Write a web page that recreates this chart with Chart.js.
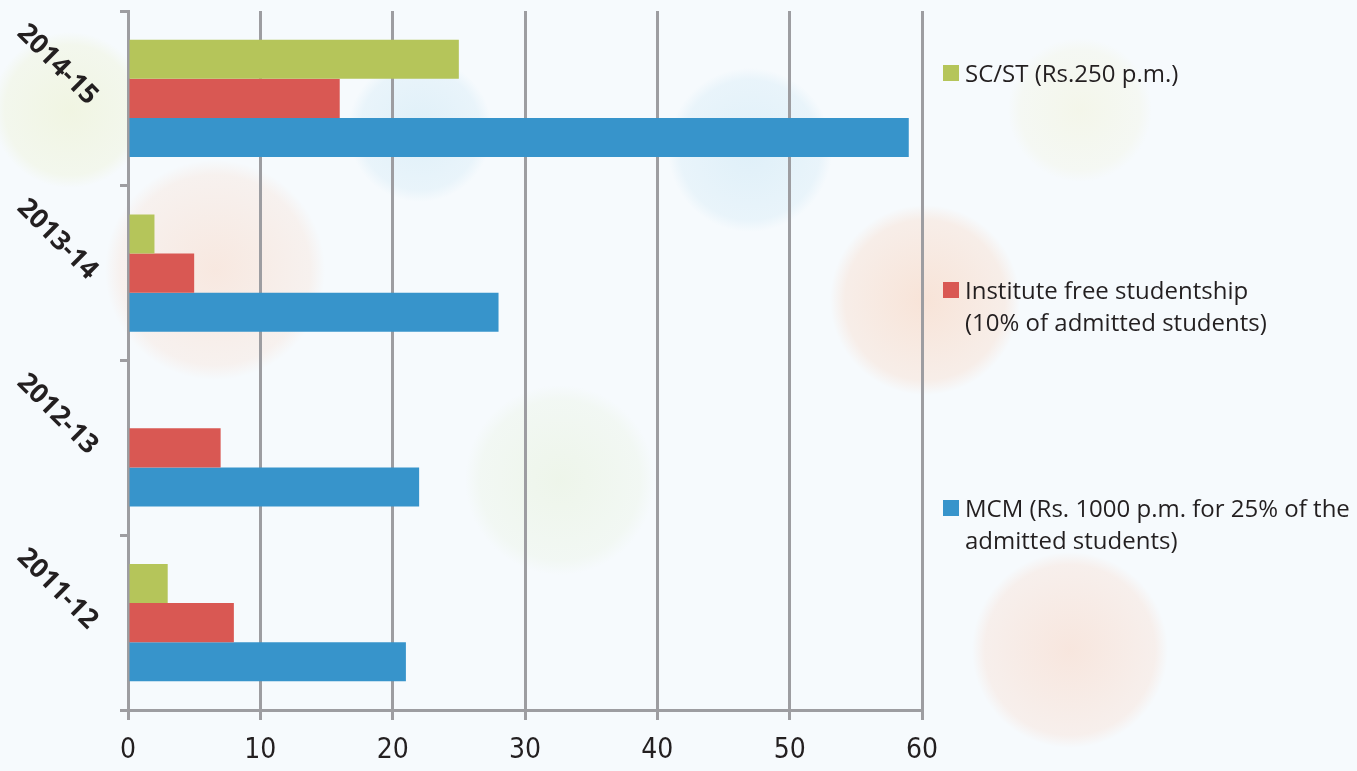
<!DOCTYPE html>
<html>
<head>
  <title>Scholarships</title>
  <script src="https://cdn.jsdelivr.net/npm/chart.js"></script>
  <style>
    html, body { margin: 0; padding: 0; }
    body {
      width: 1357px; height: 771px; overflow: hidden; position: relative;
      background-color: #f6fafd;
      background-image:
        radial-gradient(circle at 925px 300px, rgba(250,200,170,0.45) 0, rgba(250,200,170,0.25) 80px, rgba(250,200,170,0) 95px),
        radial-gradient(circle at 215px 270px, rgba(250,205,180,0.4) 0, rgba(250,205,180,0.2) 95px, rgba(250,205,180,0) 110px),
        radial-gradient(circle at 420px 130px, rgba(180,220,240,0.35) 0, rgba(180,220,240,0.2) 60px, rgba(180,220,240,0) 72px),
        radial-gradient(circle at 750px 150px, rgba(180,220,240,0.35) 0, rgba(180,220,240,0.2) 70px, rgba(180,220,240,0) 82px),
        radial-gradient(circle at 70px 110px, rgba(235,240,200,0.5) 0, rgba(235,240,200,0.3) 65px, rgba(235,240,200,0) 78px),
        radial-gradient(circle at 1070px 650px, rgba(250,200,175,0.4) 0, rgba(250,200,175,0.22) 85px, rgba(250,200,175,0) 98px),
        radial-gradient(circle at 560px 480px, rgba(225,238,205,0.4) 0, rgba(225,238,205,0.2) 80px, rgba(225,238,205,0) 95px),
        radial-gradient(circle at 1080px 110px, rgba(240,240,205,0.4) 0, rgba(240,240,205,0.2) 60px, rgba(240,240,205,0) 72px);
    }
    #wrap { position: absolute; left: 0; top: 0; width: 1357px; height: 771px; }
    #legend {
      position: absolute; left: 943px; top: 0;
      font-family: "Open Sans", sans-serif; font-size: 24px; color: #231f20;
    }
    .item { position: absolute; left: 0; width: 420px; line-height: 32px; }
    .item .sw { position: absolute; left: 0; top: 8px; width: 16px; height: 16px; }
    .item .tx { position: absolute; left: 22px; white-space: nowrap; }
  </style>
</head>
<body>
<div id="wrap"><canvas id="chart" width="1357" height="771"></canvas></div>
<div id="legend"></div>

<script>
  // дані графіка
  const years = ['2014-15', '2013-14', '2012-13', '2011-12'];
  const scstValues = [25, 2, 0, 3];
  const instituteValues = [16, 5, 7, 8];
  const mcmValues = [59, 28, 22, 21];
  const xTicks = [0, 10, 20, 30, 40, 50, 60];

  const seriesNames = [
    ['SC/ST (Rs.250 p.m.)'],
    ['Institute free studentship', '(10% of admitted students)'],
    ['MCM (Rs. 1000 p.m. for 25% of the', 'admitted students)']
  ];
  const seriesColors = ['#b5c55a', '#d95853', '#3794cb'];
  const legendTops = [57, 274, 492];

  const gridGrey = '#9d9da1';

  // похилі підписи років біля осі Y
  const slantedLabels = {
    id: 'slantedLabels',
    afterDraw(chart) {
      const y = chart.scales.y;
      const c = chart.ctx;
      c.save();
      c.fillStyle = '#231f20';
      c.font = 'bold 27px "Open Sans", sans-serif';
      c.textAlign = 'right';
      c.textBaseline = 'middle';
      y.ticks.forEach((t, i) => {
        const py = y.getPixelForTick(i);
        c.save();
        c.translate(y.right - 35, py + 2);
        c.rotate(Math.PI / 4);
        c.fillText(y.getLabelForValue(t.value), 0, 0);
        c.restore();
      });
      c.restore();
    }
  };

  const ctx = document.getElementById('chart').getContext('2d');
  const chart = new Chart(ctx, {
    type: 'bar',
    data: {
      labels: years,
      datasets: [
        { label: seriesNames[0].join(' '), data: scstValues, backgroundColor: seriesColors[0] },
        { label: seriesNames[1].join(' '), data: instituteValues, backgroundColor: seriesColors[1] },
        { label: seriesNames[2].join(' '), data: mcmValues, backgroundColor: seriesColors[2] }
      ]
    },
    options: {
      indexAxis: 'y',
      responsive: false,
      animation: false,
      devicePixelRatio: 1,
      layout: { padding: { top: 11, right: 435, bottom: 3, left: 0 } },
      datasets: { bar: { categoryPercentage: 0.67, barPercentage: 1.0 } },
      plugins: {
        legend: { display: false },
        tooltip: { enabled: false }
      },
      scales: {
        x: {
          min: 0, max: 60,
          afterBuildTicks: (s) => { s.ticks = xTicks.map(v => ({ value: v })); },
          grid: { color: gridGrey, lineWidth: 3, tickLength: 10, drawTicks: true },
          border: { color: gridGrey, width: 3 },
          ticks: {
            color: '#231f20',
            padding: 14,
            maxRotation: 0,
            font: { family: '"Liberation Sans Narrow", "DejaVu Sans Condensed", sans-serif', size: 28 }
          },
          afterFit: (s) => { s.height = 58; }
        },
        y: {
          grid: { color: gridGrey, lineWidth: 3, tickLength: 8, drawOnChartArea: false, offset: true },
          border: { color: gridGrey, width: 3 },
          ticks: { display: false },
          afterFit: (s) => { s.width = 128; }
        }
      }
    },
    plugins: [slantedLabels]
  });

  // легенда справа
  const legend = document.getElementById('legend');
  seriesNames.forEach((lines, i) => {
    const item = document.createElement('div');
    item.className = 'item';
    item.style.top = legendTops[i] + 'px';
    item.innerHTML = '<span class="sw" style="background:' + seriesColors[i] + '"></span>' +
      '<span class="tx">' + lines.join('<br>') + '</span>';
    legend.appendChild(item);
  });
</script>
</body>
</html>
